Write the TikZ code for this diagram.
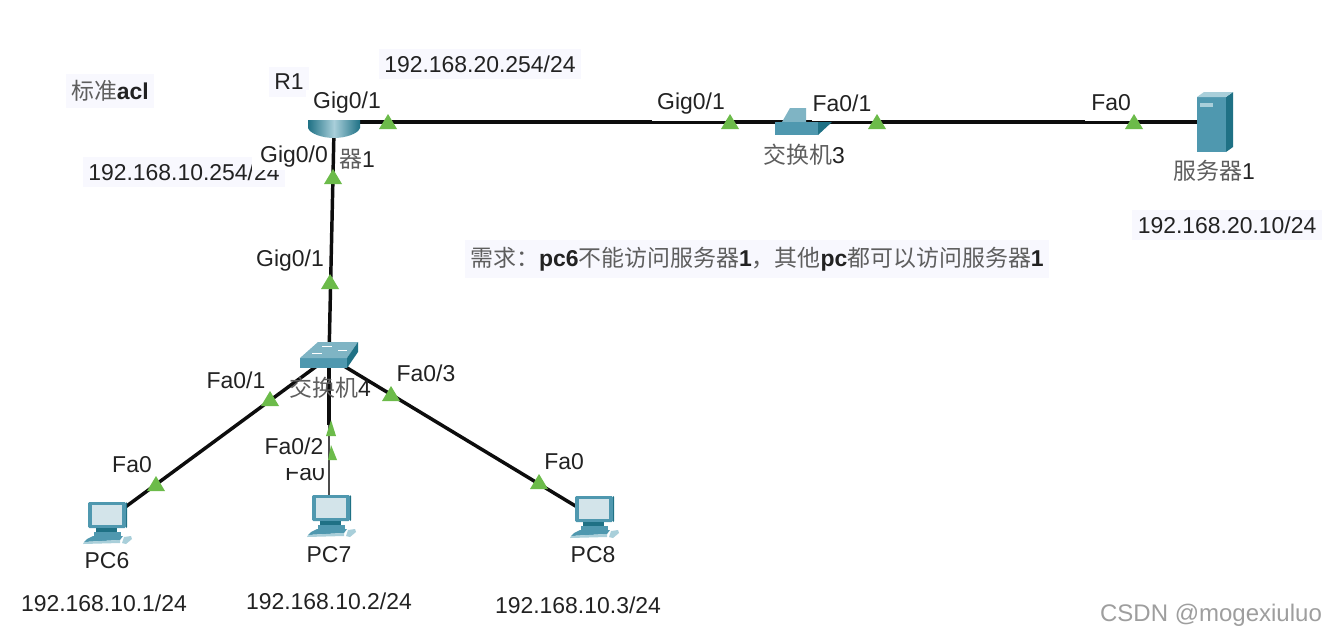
\documentclass[tikz,border=0pt]{standalone}
\usepackage{fontspec}
\setmainfont{Liberation Sans}
\newfontfamily\cjk{Noto Sans CJK SC}
\definecolor{lbltxt}{HTML}{222222}
\definecolor{cjkgrey}{HTML}{5E5E5E}
\definecolor{tint}{HTML}{F8F8FE}
\definecolor{tgreen}{HTML}{6CBB4A}
\definecolor{tealm}{HTML}{4F98AF}
\definecolor{teald}{HTML}{1F7185}
\definecolor{teall}{HTML}{A9CFDA}
\definecolor{tealt}{HTML}{7FB4C4}
\definecolor{screenc}{HTML}{D3E4EA}
\newcommand{\cj}[1]{\textcolor{cjkgrey}{\cjk #1}}
\tikzset{
  lbl/.style={font=\fontsize{17.2}{20}\selectfont, text=lbltxt, inner sep=0pt},
  tinted/.style={lbl, fill=tint, inner xsep=4pt, inner ysep=5pt},
  link/.style={draw=black!95, line width=2.6pt},
  thinlink/.style={draw=black!70, line width=1.2pt},
  mask/.style={fill=white, draw=none},
  tri/.style={fill=tgreen, draw=none},
  pics/pcicon/.style={code={
    \fill[tealm,rounded corners=1pt] (-17,-20) rectangle (21,6);
    \fill[teald] (21,-20) -- (22,-19) -- (22,5) -- (21,6) -- cycle;
    \fill[screenc] (-13,-17) rectangle (17,3);
    \fill[teald] (-9,6) rectangle (12,10);
    \fill[tealm] (-11,10) rectangle (16,14);
    \fill[tealm] (-12,14) -- (18,14) -- (15,18) -- (-21,20) -- (-18,17) -- cycle;
    \fill[teall] (-21,20) -- (15,18) -- (15,21) -- (-22,22) -- cycle;
    \fill[teall] (19,15) -- (26,14) -- (27,17) -- (21,22) -- (17,21) -- cycle;
  }},
}
\begin{document}
\begin{tikzpicture}[x=0.75pt,y=-0.75pt]
\useasboundingbox (0,0) rectangle (1326,635);
\fill[white] (0,0) rectangle (1326,635);

% device anchors
\coordinate (r1) at (334,122);
\coordinate (r1b) at (334,130);
\coordinate (sw3) at (802,122);
\coordinate (srv) at (1214,122);
\coordinate (sw4) at (329,357);
\coordinate (pc6) at (105,522);
\coordinate (pc7) at (329,515);
\coordinate (pc7top) at (329,495);
\coordinate (pc7mid) at (329,425);
\coordinate (pc8) at (592,516);

% tinted label backgrounds and texts that sit under others
\node[tinted] (acl) at (110,91) {\cj{标准}\textbf{acl}};
\node[tinted] (rname) at (289,82) {R1};
\node[tinted] (ip20r) at (480,64) {192.168.20.254/24};
\node[tinted] (ip10r) at (184,172) {192.168.10.254/24};
\node[tinted] (ipsrv) at (1227,225) {192.168.20.10/24};
\node[tinted] (need) at (757,259) {\cj{需求：}\textbf{pc6}\cj{不能访问服务器}\textbf{1}\cj{，其他}\textbf{pc}\cj{都可以访问服务器}\textbf{1}};

% connectors
\draw[link] (r1) -- (sw3);
\draw[link] (sw3) -- (srv);
\draw[link] (r1b) -- (sw4);
\draw[link] (sw4) -- (pc6);
\draw[link] (sw4) -- (pc8);
\draw[link] (sw4) -- (pc7mid);
\draw[thinlink] (pc7mid) -- (pc7top);

% router
\shade[left color=teald, right color=teald, middle color=teall]
  (308,116) -- (360,116) -- (360,128) .. controls (358,134) and (345,138) .. (334,138)
  .. controls (323,138) and (310,134) .. (308,128) -- cycle;
% switch 3
\fill[tealt] (790,108) -- (806,108) -- (806,122) -- (782,122) -- cycle;
\fill[tealm] (775,122) -- (818,122) -- (818,135) -- (775,135) -- cycle;
\fill[teald] (818,122) -- (832,122) -- (818,135) -- cycle;
% server
\fill[tealm] (1197,97) rectangle (1226,152);
\fill[teald] (1226,97) -- (1233,92) -- (1233,147) -- (1226,152) -- cycle;
\fill[teall] (1197,97) -- (1204,92) -- (1233,92) -- (1226,97) -- cycle;
\fill[teall] (1200,103) rectangle (1213,107);
% switch 4
\fill[tealm] (300,358) rectangle (347,368);
\fill[tealt] (300,358) -- (318,342) -- (358,342) -- (347,358) -- cycle;
\fill[teald] (347,358) -- (358,342) -- (358,352) -- (347,368) -- cycle;
\draw[white, line width=0.5pt] (312,353) -- (322,353) (322,346) -- (332,346) (338,350) -- (347,350);
% PCs
\pic at (pc6) {pcicon};
\pic at (pc7) {pcicon};
\pic at (pc8) {pcicon};

% white cuts left by the labels
\fill[mask] (306,90) rectangle (362,120);
\fill[mask] (652,95) rectangle (726,120.6);
\fill[mask] (812,95) rectangle (876,120.6);
\fill[mask] (1085,95) rectangle (1135,120.6);
\fill[mask] (252,145) rectangle (330,170);
\node[lbl] (f0b) at (305,473) {Fa0};
\fill[mask] (262,433) rectangle (327.6,468);

% port triangles
\foreach \x/\y in {388/129,730/129,877/129,1134/129,333/184,330/289,270/406,391/401,156/491,539/489}{
  \fill[tri] (\x,\y-15) -- (\x+9,\y) -- (\x-9,\y) -- cycle;
}
\fill[tri] (331,420) -- (336,436) -- (326,436) -- cycle;
\fill[tri] (331,445) -- (337,460) -- (328,460) -- cycle;

% labels
\node[lbl] (g1) at (347,103) {Gig0/1};
\node[lbl] (g0) at (294,157) {Gig0/0};
\node[lbl] (r1name) at (357,159) {\cj{器}1};
\node[lbl] (g1b) at (691,104) {Gig0/1};
\node[lbl] (f1) at (842,103) {Fa0/1};
\node[lbl] (f0) at (1111,103) {Fa0};
\node[lbl] (sw3name) at (804,155) {\cj{交换机}3};
\node[lbl] (srvname) at (1214,171) {\cj{服务器}1};
\node[lbl] (g1c) at (290,261) {Gig0/1};
\node[lbl] (sw4name) at (330,388) {\cj{交换机}4};
\node[lbl] (f01) at (236,380) {Fa0/1};
\node[lbl] (f03) at (426,373) {Fa0/3};
\node[lbl] (f02) at (294,446) {Fa0/2};
\node[lbl] (f0a) at (132,465) {Fa0};
\node[lbl] (f0c) at (564,462) {Fa0};
\node[lbl] (n6) at (107,561) {PC6};
\node[lbl] (n7) at (329,555) {PC7};
\node[lbl] (n8) at (593,555) {PC8};
\node[lbl] (ip1) at (104,603) {192.168.10.1/24};
\node[lbl] (ip2) at (329,601) {192.168.10.2/24};
\node[lbl] (ip3) at (578,605) {192.168.10.3/24};
\node[lbl, text=black!38, font=\fontsize{18}{20}\selectfont] (wm) at (1211,615) {CSDN @mogexiuluo};
\end{tikzpicture}
\end{document}
